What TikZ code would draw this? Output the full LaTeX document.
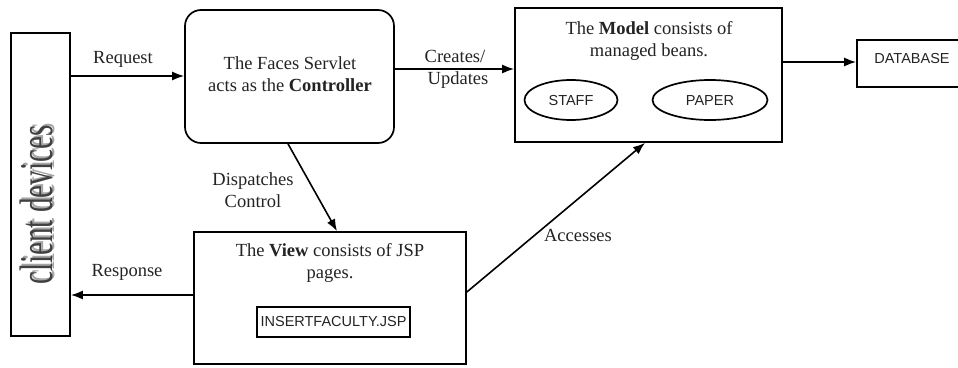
\documentclass[tikz,border=0pt]{standalone}
\usepackage{fontspec}
\setmainfont{Liberation Serif}
\setsansfont{Liberation Sans}
\usetikzlibrary{arrows.meta,shapes.geometric}
\definecolor{txt}{RGB}{35,35,35}
\tikzset{
  box/.style={draw, line width=1.7pt, inner sep=0pt},
  arr/.style={line width=1.6pt, -{Latex[length=12pt,width=9pt]}},
  lbl/.style={text=txt, font=\fontsize{18.5}{22}\selectfont, align=center, inner sep=0pt},
  sf/.style={text=txt, font=\sffamily\fontsize{14.5}{17}\selectfont, inner sep=0pt},
}
\begin{document}
\begin{tikzpicture}[x=1pt,y=-1pt]
\useasboundingbox (0,0) rectangle (958,367);
% boxes
\node[box, minimum width=59pt, minimum height=303pt] (client) at (40.5,184.5) {};
\node[box, rounded corners=16pt, minimum width=209pt, minimum height=133pt] (ctrl) at (289.5,76.5) {};
\node[box, minimum width=267pt, minimum height=134pt] (model) at (648.5,75) {};
\node[box, minimum width=110pt, minimum height=47pt] (db) at (912,63.5) {};
\node[box, minimum width=272pt, minimum height=132pt] (view) at (330,298) {};
\node[box, minimum width=153pt, minimum height=30pt] (jsp) at (333.5,322) {};
\node[sf] (jsptxt) at (333.5,322) {INSERTFACULTY.JSP};
\node[box, ellipse, minimum width=93pt, minimum height=40pt] (staff) at (571,100) {};
\node[sf] (stafftxt) at (571,101) {STAFF};
\node[box, ellipse, minimum width=115pt, minimum height=40pt] (paper) at (710,100) {};
\node[sf] (papertxt) at (710,101) {PAPER};
\node[sf] (dbtxt) at (912,59) {DATABASE};
% box texts
\node[lbl] (ctrltxt) at (290,74) {The Faces Servlet\\acts as the \textbf{Controller}};
\node[lbl] (modeltxt) at (649,41) {The \textbf{Model} consists of\\managed beans.};
\node[lbl] (viewtxt) at (330,263) {The \textbf{View} consists of JSP\\pages.};
% client devices with shadow
\node[rotate=90, inner sep=0pt, text=black!35, font=\fontsize{47}{47}\selectfont] (clientsh) at (38.5,203) {\scalebox{0.62}[1]{client devices}};
\node[rotate=90, inner sep=0pt, text=black!75, font=\fontsize{47}{47}\selectfont] (clienttxt) at (36,205) {\scalebox{0.62}[1]{client devices}};
% connector coordinates
\coordinate (ry) at (0,76);
\coordinate (cy) at (0,69);
\coordinate (dby) at (0,62);
\coordinate (dA) at (288,0);
\coordinate (dB) at (337,0);
\coordinate (aA) at (0,292);
\coordinate (aB) at (645,0);
\coordinate (rsy) at (0,295);
% connectors
\draw[arr] (client.east |- ry) -- (ctrl.west |- ry);
\draw[arr] (ctrl.east |- cy) -- (model.west |- cy);
\draw[arr] (model.east |- dby) -- (db.west |- dby);
\draw[arr] (ctrl.south -| dA) -- (view.north -| dB);
\draw[arr] (view.east |- aA) -- (model.south -| aB);
\draw[arr] (view.west |- rsy) -- (client.east |- rsy);
% connector labels
\node[lbl] (reqlbl) at (123,59) {Request};
\node[lbl] (creslbl) at (455,69) {Creates/\\\hspace*{6pt}Updates};
\node[lbl] (displbl) at (253,190) {Dispatches\\Control};
\node[lbl] (acclbl) at (578,235) {Accesses};
\node[lbl] (reslbl) at (127,272) {Response};
\end{tikzpicture}
\end{document}
